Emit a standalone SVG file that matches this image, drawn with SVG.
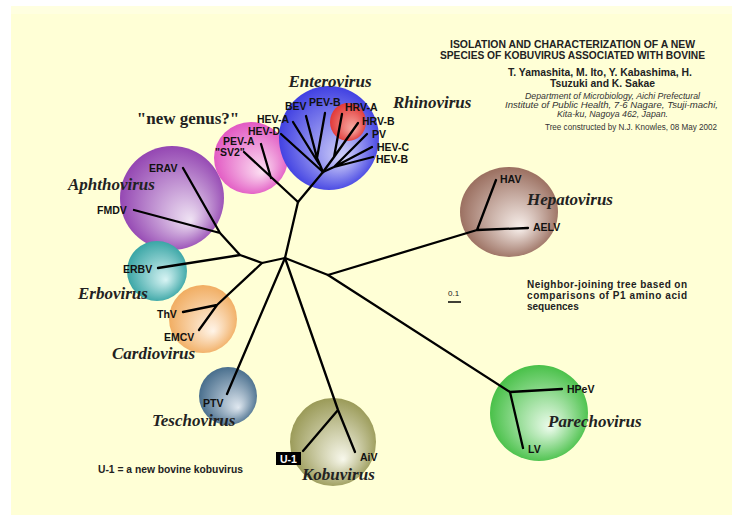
<svg xmlns="http://www.w3.org/2000/svg" width="732" height="515" viewBox="0 0 732 515">
<defs>
<style>
.lbl{font-family:"Liberation Sans",Arial,sans-serif;font-weight:bold;font-size:10.5px;fill:#111}
.gen{font-family:"Liberation Serif","Times New Roman",serif;font-weight:bold;font-style:italic;font-size:17px;fill:#222}
.hd{font-family:"Liberation Sans",Arial,sans-serif;font-weight:bold;fill:#222}
.it{font-family:"Liberation Sans",Arial,sans-serif;font-style:italic;font-size:8.5px;fill:#333}
.br{stroke:#000;stroke-width:2.3;fill:none;stroke-linecap:round;stroke-linejoin:round}
</style>
<radialGradient id="gEnt" cx="0.5" cy="0.5" r="0.55" fx="0.65" fy="0.7"><stop offset="0" stop-color="#d4d4fa"/><stop offset="1" stop-color="#3636e0"/></radialGradient>
<radialGradient id="gRhi" cx="0.5" cy="0.5" r="0.55" fx="0.65" fy="0.7"><stop offset="0" stop-color="#f8b0a8"/><stop offset="1" stop-color="#e03030"/></radialGradient>
<radialGradient id="gNew" cx="0.5" cy="0.5" r="0.55" fx="0.65" fy="0.7"><stop offset="0" stop-color="#fce0f2"/><stop offset="1" stop-color="#e050c0"/></radialGradient>
<radialGradient id="gAph" cx="0.5" cy="0.5" r="0.55" fx="0.68" fy="0.72"><stop offset="0" stop-color="#f0e4f4"/><stop offset="1" stop-color="#8e3cae"/></radialGradient>
<radialGradient id="gErb" cx="0.5" cy="0.5" r="0.55" fx="0.65" fy="0.65"><stop offset="0" stop-color="#d8f4f4"/><stop offset="1" stop-color="#2ea0a0"/></radialGradient>
<radialGradient id="gCar" cx="0.5" cy="0.5" r="0.55" fx="0.65" fy="0.68"><stop offset="0" stop-color="#fff4e8"/><stop offset="1" stop-color="#f0a858"/></radialGradient>
<radialGradient id="gTes" cx="0.5" cy="0.5" r="0.55" fx="0.68" fy="0.7"><stop offset="0" stop-color="#e0e8f0"/><stop offset="1" stop-color="#3e6686"/></radialGradient>
<radialGradient id="gKob" cx="0.5" cy="0.5" r="0.55" fx="0.62" fy="0.7"><stop offset="0" stop-color="#f8f8ec"/><stop offset="1" stop-color="#94944e"/></radialGradient>
<radialGradient id="gHep" cx="0.5" cy="0.5" r="0.55" fx="0.62" fy="0.68"><stop offset="0" stop-color="#f8f0ec"/><stop offset="1" stop-color="#946656"/></radialGradient>
<radialGradient id="gPar" cx="0.5" cy="0.5" r="0.55" fx="0.62" fy="0.65"><stop offset="0" stop-color="#eefcee"/><stop offset="1" stop-color="#3cbc3c"/></radialGradient>
</defs>

<rect x="0" y="0" width="732" height="515" fill="#ffffff"/>
<rect x="11" y="6" width="721" height="509" fill="#ffffd6"/>
<rect x="11" y="6" width="721" height="8" fill="#ffffe0"/>

<g id="blobs">
<ellipse cx="172" cy="198" rx="52" ry="52" fill="url(#gAph)"/>
<ellipse cx="157" cy="271" rx="30" ry="30" fill="url(#gErb)"/>
<ellipse cx="203" cy="319" rx="34" ry="34" fill="url(#gCar)"/>
<ellipse cx="228" cy="396" rx="29" ry="29" fill="url(#gTes)"/>
<ellipse cx="333" cy="442" rx="43" ry="44" fill="url(#gKob)"/>
<ellipse cx="509" cy="212" rx="49" ry="45" fill="url(#gHep)"/>
<ellipse cx="539" cy="413" rx="49" ry="48" fill="url(#gPar)"/>
<ellipse cx="251" cy="158" rx="37" ry="36" fill="url(#gNew)"/>
<ellipse cx="329" cy="138" rx="50" ry="52" fill="url(#gEnt)"/>
<ellipse cx="348" cy="122" rx="18" ry="19" fill="url(#gRhi)"/>
</g>

<g id="connectors">
<path class="br" d="M285,258 L298,202"/>
<path class="br" d="M298,202 L244,152 M271,178 L261,144"/>
<path class="br" d="M298,202 L323,172"/>
<path class="br" d="M323,172 L317,158 L306,116 M317,158 L325,113 M319,164 L293,122 M323,172 L281,134"/>
<path class="br" d="M323,172 L334,157 L342,114 M334,157 L358,123"/>
<path class="br" d="M323,172 L334,167 L367,134 M334,167 L372,147 M334,167 L373,157"/>
<path class="br" d="M285,258 L262,263 L240,255 L220,233 L183,168 M220,233 L134,210 M240,255 L158,268"/>
<path class="br" d="M262,263 L217,305 L183,312 M217,305 L199,330"/>
<path class="br" d="M285,258 L227,394"/>
<path class="br" d="M285,258 L338,410 L355,452 M338,410 L303,451"/>
<path class="br" d="M285,258 L328,275 L477,230 L496,180 M477,230 L528,228"/>
<path class="br" d="M328,275 L510,392 L562,389 M510,392 L523,448"/>
<path d="M448,302 L461,302" stroke="#000" stroke-width="1.5"/>
</g>

<g id="enterovirus">
<text class="gen" x="330" y="87" text-anchor="middle">Enterovirus</text>
<text class="lbl" x="285" y="110">BEV</text>
<text class="lbl" x="309" y="106">PEV-B</text>
<text class="lbl" x="257" y="123">HEV-A</text>
<text class="lbl" x="248" y="135">HEV-D</text>
<text class="lbl" x="372" y="138">PV</text>
<text class="lbl" x="377" y="151">HEV-C</text>
<text class="lbl" x="376" y="163">HEV-B</text>
</g>
<g id="rhinovirus">
<text class="gen" x="393" y="108">Rhinovirus</text>
<text class="lbl" x="345" y="111">HRV-A</text>
<text class="lbl" x="362" y="125">HRV-B</text>
</g>
<g id="newgenus">
<text x="188" y="124" text-anchor="middle" style="font-family:'Liberation Serif','Times New Roman',serif;font-weight:bold;font-size:17px;fill:#222">"new genus?"</text>
<text class="lbl" x="223" y="145">PEV-A</text>
<text class="lbl" x="215" y="156">"SV2"</text>
</g>
<g id="aphthovirus">
<text class="gen" x="68" y="190">Aphthovirus</text>
<text class="lbl" x="149" y="172">ERAV</text>
<text class="lbl" x="97" y="214">FMDV</text>
</g>
<g id="erbovirus">
<text class="gen" x="78" y="299">Erbovirus</text>
<text class="lbl" x="123" y="273">ERBV</text>
</g>
<g id="cardiovirus">
<text class="gen" x="112" y="359">Cardiovirus</text>
<text class="lbl" x="164" y="341" font-size="10">EMCV</text>
<text class="lbl" x="157" y="318">ThV</text>
</g>
<g id="teschovirus">
<text class="gen" x="152" y="426">Teschovirus</text>
<text class="lbl" x="203" y="407">PTV</text>
</g>
<g id="kobuvirus">
<text class="gen" x="302" y="480">Kobuvirus</text>
<rect x="276" y="452" width="25" height="13" fill="#000"/>
<text class="lbl" x="288.5" y="462.5" text-anchor="middle" style="fill:#fff">U-1</text>
<text class="lbl" x="360" y="461">AiV</text>
</g>
<g id="hepatovirus">
<text class="gen" x="527" y="205">Hepatovirus</text>
<text class="lbl" x="500" y="183">HAV</text>
<text class="lbl" x="533" y="231">AELV</text>
</g>
<g id="parechovirus">
<text class="gen" x="548" y="427">Parechovirus</text>
<text class="lbl" x="567" y="393">HPeV</text>
<text class="lbl" x="528" y="453">LV</text>
</g>

<g id="header">
<text class="hd" x="450" y="48" font-size="10" textLength="245" lengthAdjust="spacingAndGlyphs">ISOLATION AND CHARACTERIZATION OF A NEW</text>
<text class="hd" x="440" y="59" font-size="10" textLength="265" lengthAdjust="spacingAndGlyphs">SPECIES OF KOBUVIRUS ASSOCIATED WITH BOVINE</text>
<text class="hd" x="508" y="76" font-size="10.5" textLength="184" lengthAdjust="spacingAndGlyphs">T. Yamashita, M. Ito, Y. Kabashima, H.</text>
<text class="hd" x="550" y="87" font-size="10.5" textLength="105" lengthAdjust="spacingAndGlyphs">Tsuzuki and K. Sakae</text>
<text class="it" x="525" y="99" textLength="175" lengthAdjust="spacingAndGlyphs">Department of Microbiology, Aichi Prefectural</text>
<text class="it" x="505" y="108" textLength="213" lengthAdjust="spacingAndGlyphs">Institute of Public Health, 7-6 Nagare, Tsuji-machi,</text>
<text class="it" x="557" y="117" textLength="111" lengthAdjust="spacingAndGlyphs">Kita-ku, Nagoya 462, Japan.</text>
<text x="545" y="130" textLength="172" lengthAdjust="spacingAndGlyphs" style="font-family:'Liberation Sans',Arial,sans-serif;font-size:8.5px;fill:#333">Tree constructed by N.J. Knowles, 08 May 2002</text>
</g>

<g id="notes">
<text x="448" y="296" style="font-family:'Liberation Sans',Arial,sans-serif;font-size:8px;fill:#222">0.1</text>
<text class="hd" x="527" y="288" font-size="10" textLength="160" lengthAdjust="spacing">Neighbor-joining tree based on</text>
<text class="hd" x="527" y="299" font-size="10" textLength="160" lengthAdjust="spacing">comparisons of P1 amino acid</text>
<text class="hd" x="527" y="310" font-size="10">sequences</text>
<text class="hd" x="98" y="473" font-size="10" textLength="145" lengthAdjust="spacingAndGlyphs">U-1 = a new bovine kobuvirus</text>
</g>
</svg>
